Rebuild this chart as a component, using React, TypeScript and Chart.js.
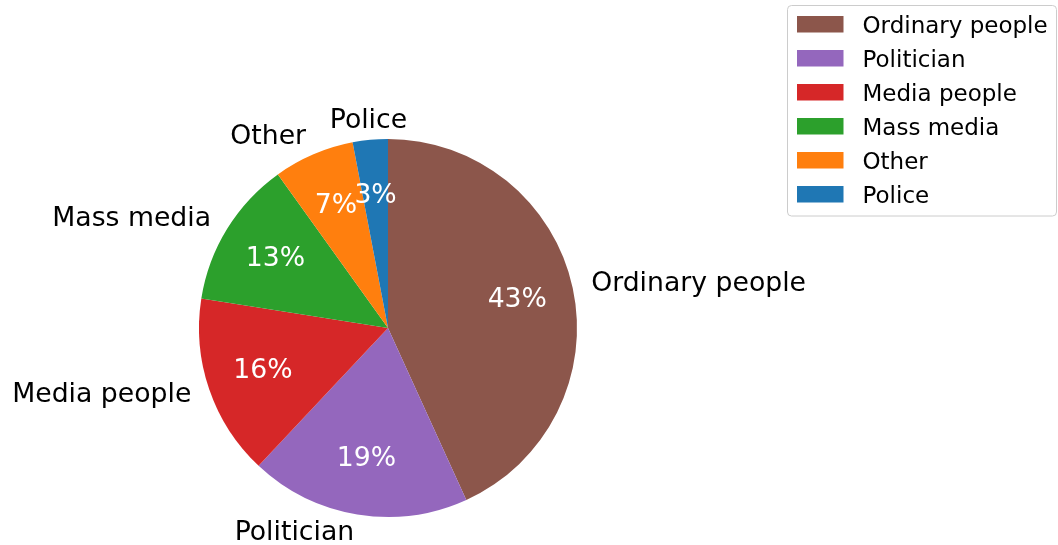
import React, { useEffect, useRef } from "react";
import { Chart, registerables } from "chart.js";

Chart.register(...registerables);

const categories = ["Ordinary people", "Politician", "Media people", "Mass media", "Other", "Police"];
const shares = [43.2, 18.8, 15.5, 12.6, 6.9, 3.0];
const colors = ["#8c564b", "#9467bd", "#d62728", "#2ca02c", "#ff7f0e", "#1f77b4"];

const FONT = "'DejaVu Sans', sans-serif";

const labelPlugin = {
  id: "pieLabels",
  afterDraw(chart: any) {
    const ctx = chart.ctx;
    const meta = chart.getDatasetMeta(0);
    const data = chart.data.datasets[0].data as number[];
    const total = data.reduce((a, b) => a + b, 0);
    ctx.save();
    meta.data.forEach((arc: any, i: number) => {
      const p = arc.getProps(["x", "y", "startAngle", "endAngle", "outerRadius"], true);
      const mid = (p.startAngle + p.endAngle) / 2;
      const c = Math.cos(mid);
      const s = Math.sin(mid);
      // outer label
      const lx = p.x + c * p.outerRadius * 1.1;
      const ly = p.y + s * p.outerRadius * 1.1;
      ctx.font = `26.7px ${FONT}`;
      ctx.fillStyle = "#000000";
      ctx.textBaseline = "alphabetic";
      ctx.textAlign = Math.abs(c) < 0.12 ? "center" : c > 0 ? "left" : "right";
      ctx.fillText(chart.data.labels[i], lx, ly + 7);
      // percentage
      const px = p.x + c * p.outerRadius * 0.7;
      const py = p.y + s * p.outerRadius * 0.7;
      ctx.fillStyle = "#ffffff";
      ctx.textAlign = "center";
      ctx.fillText(`${Math.round((data[i] / total) * 100)}%`, px, py + 7);
    });

    // legend
    const bx = 787.5, by = 5.5, bw = 269, bh = 210.5;
    ctx.beginPath();
    ctx.roundRect(bx, by, bw, bh, 4);
    ctx.fillStyle = "rgba(255,255,255,0.8)";
    ctx.fill();
    ctx.strokeStyle = "#cccccc";
    ctx.lineWidth = 1;
    ctx.stroke();
    ctx.font = `23px ${FONT}`;
    ctx.textAlign = "left";
    ctx.textBaseline = "alphabetic";
    (chart.data.labels as string[]).forEach((lab: string, i: number) => {
      const top = 16 + i * 34;
      ctx.fillStyle = colors[i];
      ctx.fillRect(797, top, 46.5, 16.5);
      ctx.fillStyle = "#000000";
      ctx.fillText(lab, 862.5, top + 16.8);
    });
    ctx.restore();
  },
};

export default function App() {
  const ref = useRef<HTMLCanvasElement>(null);
  useEffect(() => {
    if (!ref.current) return;
    const chart = new Chart(ref.current, {
      type: "pie",
      data: {
        labels: categories,
        datasets: [
          {
            data: shares,
            backgroundColor: colors,
            borderWidth: 0,
          },
        ],
      },
      options: {
        responsive: false,
        animation: false,
        devicePixelRatio: 1,
        layout: { padding: { left: 199, right: 481, top: 139, bottom: 28 } },
        plugins: {
          legend: { display: false },
          tooltip: { enabled: false },
        },
      },
      plugins: [labelPlugin],
    });
    return () => chart.destroy();
  }, []);
  return (
    <div style={{ position: "fixed", left: 0, top: 0, width: 1058, height: 545, background: "#ffffff" }}>
      <canvas ref={ref} width={1058} height={545} />
    </div>
  );
}
